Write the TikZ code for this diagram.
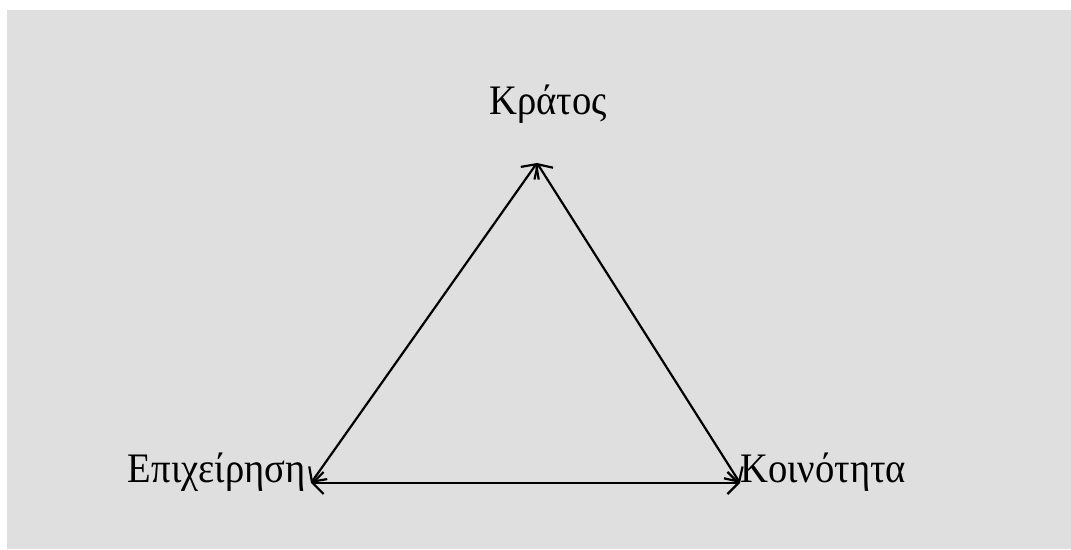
\documentclass[tikz,border=0pt]{standalone}
\usepackage{fontspec}
\setmainfont{Liberation Serif}
\usetikzlibrary{arrows.meta}
\definecolor{bggray}{HTML}{DFDFDF}
\newcommand{\narrowtxt}[1]{\scalebox{0.92}[1]{#1}}
\begin{document}
\begin{tikzpicture}[x=1pt,y=1pt,
  lbl/.style={inner sep=0pt,font=\fontsize{42}{48}\selectfont},
  link/.style={line width=2.2pt,{Straight Barb[length=11pt,width=22pt]}-{Straight Barb[length=11pt,width=22pt]}}]
\useasboundingbox (0,0) rectangle (1071,549);
\fill[bggray] (7,0) rectangle (1071,539);
\coordinate (A) at (537,386);
\coordinate (L) at (311,66);
\coordinate (R) at (740,66);
\node[lbl,anchor=base] (kratos) at (548,434) {\narrowtxt{Κράτος}};
\node[lbl,anchor=base east] (epix) at (306,66) {\narrowtxt{Επιχείρηση}};
\node[lbl,anchor=base west] (koin) at (740,66) {\narrowtxt{Κοινότητα}};
\draw[link] (A) -- (L);
\draw[link] (A) -- (R);
\draw[link] (L) -- (R);
\end{tikzpicture}
\end{document}
